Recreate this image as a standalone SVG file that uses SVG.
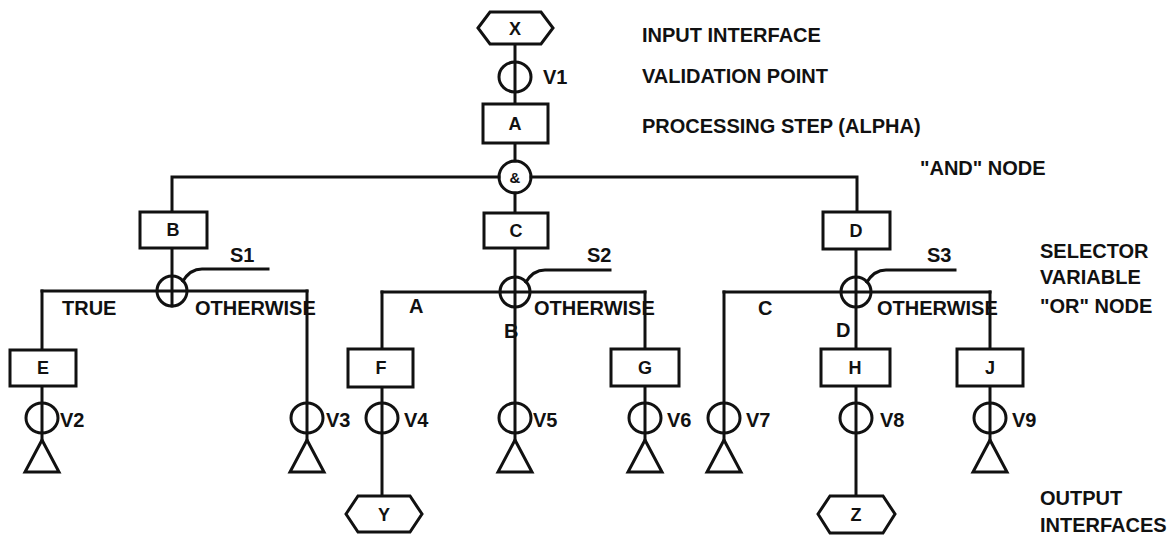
<svg xmlns="http://www.w3.org/2000/svg" width="1174" height="536" viewBox="0 0 1174 536">
<style>
.ln{fill:none;stroke:#111;stroke-width:3;stroke-linecap:square}
.box{fill:#fff;stroke:#111;stroke-width:3}
.vc{fill:none;stroke:#111;stroke-width:3}
.oc{fill:none;stroke:#111;stroke-width:3}
.tri{fill:#fff;stroke:#111;stroke-width:3;stroke-linejoin:miter}
text{font-family:"Liberation Sans",Arial,sans-serif;font-weight:bold;fill:#111}
.t{font-size:20px}
.c{font-size:18px;text-anchor:middle}
</style>
<rect width="1174" height="536" fill="#fff"/>
<g id="connectors">
<path class="ln" d="M515 44V104"/>
<path class="ln" d="M515 143V161"/>
<path class="ln" d="M499 177H172V212"/>
<path class="ln" d="M531 177H857V212"/>
<path class="ln" d="M515 193V213"/>
<path class="ln" d="M172 248V306"/>
<path class="ln" d="M42 291H307"/>
<path class="ln" d="M42 291V350"/>
<path class="ln" d="M307 291V440"/>
<path class="ln" d="M183 281Q190 269 202 269H268"/>
<path class="ln" d="M42 386V440"/>
<path class="ln" d="M515 248V440"/>
<path class="ln" d="M382 292H645"/>
<path class="ln" d="M382 292V349"/>
<path class="ln" d="M645 292V349"/>
<path class="ln" d="M382 387V496"/>
<path class="ln" d="M645 386V440"/>
<path class="ln" d="M526 282Q533 270 545 270H610"/>
<path class="ln" d="M856 249V349"/>
<path class="ln" d="M724 292H990"/>
<path class="ln" d="M724 292V440"/>
<path class="ln" d="M990 292V349"/>
<path class="ln" d="M856 386V496"/>
<path class="ln" d="M990 386V440"/>
<path class="ln" d="M867 282Q874 270 886 270H955"/>
</g>
<g id="X"><polygon class="box" points="478,28 490,12 541,12 553,28 541,44 490,44"/><text class="c" x="515" y="35">X</text></g>
<g id="V1"><ellipse class="vc" cx="515" cy="77" rx="16" ry="15"/><text class="t" x="543" y="84">V1</text></g>
<g id="A"><rect class="box" x="483" y="104" width="65" height="39"/><text class="c" x="515" y="130">A</text></g>
<g id="AND"><circle class="oc" cx="515" cy="177" r="16"/><text x="515" y="183" font-size="15" text-anchor="middle">&amp;</text></g>
<g id="B"><rect class="box" x="140" y="212" width="67" height="36"/><text class="c" x="173" y="236">B</text></g>
<g id="C"><rect class="box" x="484" y="213" width="64" height="35"/><text class="c" x="516" y="237">C</text></g>
<g id="D"><rect class="box" x="823" y="212" width="67" height="37"/><text class="c" x="856" y="237">D</text></g>
<g id="S1"><circle class="oc" cx="172" cy="291" r="15"/><text class="t" x="230" y="262">S1</text><text class="t" x="62" y="315">TRUE</text><text class="t" x="195" y="315">OTHERWISE</text></g>
<g id="S2"><circle class="oc" cx="515" cy="292" r="15"/><text class="t" x="587" y="262">S2</text><text class="t" x="409" y="313">A</text><text class="t" x="504" y="338">B</text><text class="t" x="534" y="315">OTHERWISE</text></g>
<g id="S3"><circle class="oc" cx="856" cy="292" r="15"/><text class="t" x="927" y="262">S3</text><text class="t" x="758" y="315">C</text><text class="t" x="836" y="337">D</text><text class="t" x="877" y="315">OTHERWISE</text></g>
<g id="E"><rect class="box" x="10" y="350" width="66" height="36"/><text class="c" x="43" y="374">E</text></g>
<g id="F"><rect class="box" x="348" y="349" width="65" height="38"/><text class="c" x="381" y="374">F</text></g>
<g id="G"><rect class="box" x="611" y="349" width="68" height="37"/><text class="c" x="645" y="374">G</text></g>
<g id="H"><rect class="box" x="821" y="349" width="69" height="37"/><text class="c" x="855" y="374">H</text></g>
<g id="J"><rect class="box" x="957" y="349" width="66" height="37"/><text class="c" x="990" y="374">J</text></g>
<g id="V2"><ellipse class="vc" cx="42" cy="418" rx="16" ry="15"/><text class="t" x="60" y="427">V2</text><polygon class="tri" points="42,440 25,472 59,472"/></g>
<g id="V3"><ellipse class="vc" cx="307" cy="418" rx="16" ry="15"/><text class="t" x="326" y="427">V3</text><polygon class="tri" points="307,440 290,472 324,472"/></g>
<g id="V4"><ellipse class="vc" cx="382" cy="418" rx="16" ry="15"/><text class="t" x="404" y="427">V4</text></g>
<g id="V5"><ellipse class="vc" cx="515" cy="418" rx="16" ry="15"/><text class="t" x="533" y="427">V5</text><polygon class="tri" points="515,440 498,472 532,472"/></g>
<g id="V6"><ellipse class="vc" cx="645" cy="418" rx="16" ry="15"/><text class="t" x="667" y="427">V6</text><polygon class="tri" points="645,440 628,472 662,472"/></g>
<g id="V7"><ellipse class="vc" cx="724" cy="418" rx="16" ry="15"/><text class="t" x="746" y="427">V7</text><polygon class="tri" points="724,440 707,472 741,472"/></g>
<g id="V8"><ellipse class="vc" cx="856" cy="418" rx="16" ry="15"/><text class="t" x="880" y="427">V8</text></g>
<g id="V9"><ellipse class="vc" cx="990" cy="418" rx="16" ry="15"/><text class="t" x="1012" y="427">V9</text><polygon class="tri" points="990,440 973,472 1007,472"/></g>
<g id="Y"><polygon class="box" points="346,514 358,496 410,496 422,514 410,532 358,532"/><text class="c" x="384" y="521">Y</text></g>
<g id="Z"><polygon class="box" points="818,514 830,496 883,496 895,514 883,533 830,533"/><text class="c" x="856" y="521">Z</text></g>
<g id="legend">
<text class="t" x="642" y="42">INPUT INTERFACE</text>
<text class="t" x="642" y="83">VALIDATION POINT</text>
<text class="t" x="642" y="133">PROCESSING STEP (ALPHA)</text>
<text class="t" x="920" y="175">"AND" NODE</text>
<text class="t" x="1040" y="258">SELECTOR</text>
<text class="t" x="1040" y="284">VARIABLE</text>
<text class="t" x="1040" y="313">"OR" NODE</text>
<text class="t" x="1040" y="505">OUTPUT</text>
<text class="t" x="1040" y="532">INTERFACES</text>
</g>
</svg>
